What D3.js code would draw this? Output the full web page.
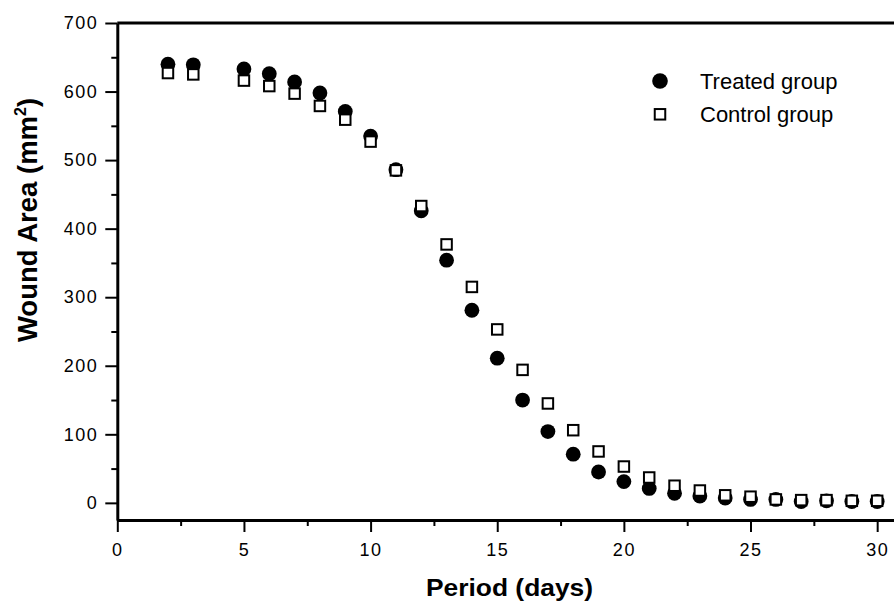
<!DOCTYPE html>
<html>
<head>
<meta charset="utf-8">
<script src="https://cdn.jsdelivr.net/npm/d3@7"></script>
<style>
  body { margin: 0; background: #fff; }
  svg { display: block; }
  .tick text { font-family: "Liberation Sans", Arial, sans-serif; font-size: 18px; letter-spacing: 1.5px; fill: #000; }
</style>
</head>
<body>
<div class="chart"></div>
<script>
// wound area readings (mm^2)
const days = [2, 3, 5, 6, 7, 8, 9, 10, 11, 12, 13, 14, 15, 16, 17, 18, 19, 20, 21, 22, 23, 24, 25, 26, 27, 28, 29, 30];
const treated = [640, 639, 633, 626, 614, 598, 571, 535, 486, 426, 354, 281, 211, 150, 104, 71, 45, 31, 21, 14, 10, 7, 5, 5, 2, 3, 2, 2];
const control = [627, 625, 616, 608, 597, 579, 559, 527, 485, 433, 377, 315, 253, 194, 145, 106, 75, 53, 37, 25, 18, 11, 9, 5, 4, 4, 3, 3];

const xTicks = [0, 5, 10, 15, 20, 25, 30];
const xMinor = [2.5, 7.5, 12.5, 17.5, 22.5, 27.5];
const yTicks = [0, 100, 200, 300, 400, 500, 600, 700];
const yMinor = [50, 150, 250, 350, 450, 550, 650];

const seriesNames = ["Treated group", "Control group"];

const width = 894;
const height = 603;
const font = "'Liberation Sans', Arial, sans-serif";

const svg = d3.select(".chart")
    .append("svg")
    .attr("width", width)
    .attr("height", height);

// x runs a bit past 30, the frame is cut by the image edge
const x = d3.scaleLinear().domain([0, 31]).range([117.3, 902.5]);
const y = d3.scaleLinear().domain([-25, 700]).range([520, 23]);

const treatedPts = days.map((d, i) => ({day: d, v: treated[i]}));
const controlPts = days.map((d, i) => ({day: d, v: control[i]}));

//y axis
const yAxis = svg.append("g")
    .attr("transform", `translate(${x(0)},0)`)
    .call(d3.axisLeft(y).tickValues(yTicks).tickSize(12).tickPadding(7).tickSizeOuter(0));
yAxis.select(".domain").attr("stroke-width", 3);
yAxis.selectAll(".tick line").attr("stroke-width", 2);

svg.append("g")
    .attr("transform", `translate(${x(0)},0)`)
    .call(d3.axisLeft(y).tickValues(yMinor).tickSize(6).tickFormat(""))
    .call(g => g.select(".domain").remove())
    .selectAll("line").attr("stroke-width", 2);

//x axis
const xAxis = svg.append("g")
    .attr("transform", `translate(0,${y(-25)})`)
    .call(d3.axisBottom(x).tickValues(xTicks).tickSize(12).tickPadding(11).tickSizeOuter(0));
xAxis.select(".domain").attr("stroke-width", 3);
xAxis.selectAll(".tick line").attr("stroke-width", 2);

svg.append("g")
    .attr("transform", `translate(0,${y(-25)})`)
    .call(d3.axisBottom(x).tickValues(xMinor).tickSize(6).tickFormat(""))
    .call(g => g.select(".domain").remove())
    .selectAll("line").attr("stroke-width", 2);

// top frame line
svg.append("line")
    .attr("x1", x(0)).attr("x2", x(31))
    .attr("y1", y(700)).attr("y2", y(700))
    .attr("stroke", "#000")
    .attr("stroke-width", 3);

//points - filled circles first, squares on top
svg.append("g").selectAll("circle")
    .data(treatedPts)
    .join("circle")
    .attr("cx", d => x(d.day))
    .attr("cy", d => y(d.v))
    .attr("r", 7.4)
    .attr("fill", "#000");

const sq = 10.5;
svg.append("g").selectAll("rect")
    .data(controlPts)
    .join("rect")
    .attr("x", d => x(d.day) - sq / 2)
    .attr("y", d => y(d.v) - sq / 2)
    .attr("width", sq)
    .attr("height", sq)
    .attr("fill", "#fff")
    .attr("stroke", "#000")
    .attr("stroke-width", 2);

//legend
const legend = svg.append("g").attr("transform", "translate(660,81)");
legend.append("circle").attr("r", 7.8).attr("fill", "#000");
legend.append("rect")
    .attr("x", -sq / 2).attr("y", 33.3 - sq / 2)
    .attr("width", sq).attr("height", sq)
    .attr("fill", "#fff").attr("stroke", "#000").attr("stroke-width", 2);
legend.selectAll("text")
    .data(seriesNames)
    .join("text")
    .attr("x", 40)
    .attr("y", (d, i) => 7.5 + i * 33.3)
    .attr("font-family", font)
    .attr("font-size", 22)
    .text(d => d);

//axis titles
svg.append("text")
    .attr("x", 509.5)
    .attr("y", 595.5)
    .attr("text-anchor", "middle")
    .attr("font-family", font)
    .attr("font-weight", "bold")
    .attr("font-size", 23)
    .attr("textLength", 167)
    .attr("lengthAdjust", "spacingAndGlyphs")
    .text("Period (days)");

const yTitle = svg.append("text")
    .attr("transform", "translate(37,220) rotate(-90)")
    .attr("text-anchor", "middle")
    .attr("font-family", font)
    .attr("font-weight", "bold")
    .attr("font-size", 27.5);
yTitle.append("tspan").text("Wound Area (mm");
yTitle.append("tspan").attr("font-size", 16).attr("dy", -11).text("2");
yTitle.append("tspan").attr("dy", 11).text(")");
</script>
</body>
</html>
